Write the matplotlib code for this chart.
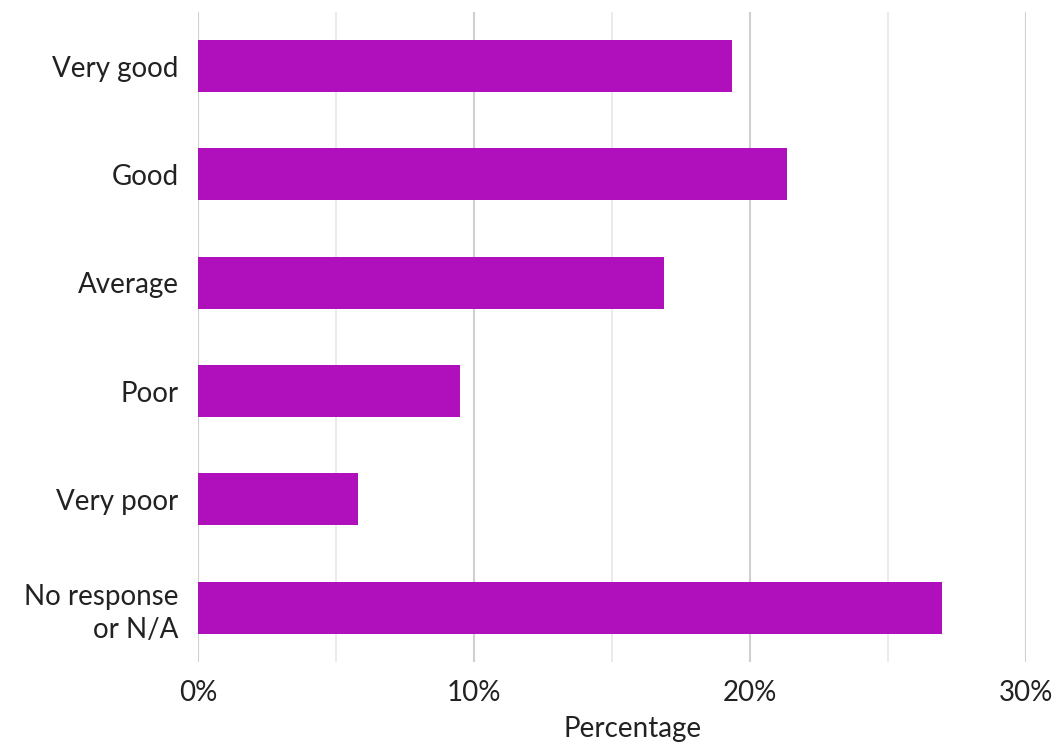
import matplotlib
matplotlib.use("Agg")
import matplotlib.pyplot as plt
from matplotlib.ticker import MultipleLocator, FuncFormatter

plt.rcParams['font.family'] = ['Lato', 'DejaVu Sans']

# 数据
categories = ["Very good", "Good", "Average", "Poor", "Very poor", "No response\nor N/A"]
percentages = [19.35, 21.35, 16.9, 9.5, 5.8, 26.95]
x_ticks = [0, 10, 20, 30]

fig = plt.figure(figsize=(10.6, 7.46), dpi=100)
ax = fig.add_axes([0.1868, 0.1126, 0.7812, 0.8714])

y_pos = list(range(len(categories)))
ax.barh(y_pos, percentages, height=0.48, color="#B010BC", zorder=3)

ax.set_ylim(len(categories) - 0.5, -0.5)
ax.set_xlim(0, 30)
ax.set_yticks(y_pos)
ax.set_yticklabels(categories, fontsize=20, color="#222222", linespacing=1.3)
ax.set_xticks(x_ticks)
ax.xaxis.set_major_formatter(FuncFormatter(lambda v, p: f"{v:.0f}%"))
ax.xaxis.set_minor_locator(MultipleLocator(5))
ax.tick_params(axis="x", labelsize=20, labelcolor="#222222", length=0, pad=13)
ax.tick_params(axis="y", length=0, pad=14)
ax.tick_params(axis="x", which="minor", length=0)

ax.grid(axis="x", which="major", color="#d0d0d0", linewidth=1.5, zorder=0)
ax.grid(axis="x", which="minor", color="#e8e8e8", linewidth=1.2, zorder=0)
ax.grid(axis="y", visible=False)
for s in ax.spines.values():
    s.set_visible(False)

ax.set_xlabel("Percentage", fontsize=20, color="#222222")
ax.xaxis.set_label_coords(0.525, -0.083)

fig.savefig("out.png", dpi=100)
